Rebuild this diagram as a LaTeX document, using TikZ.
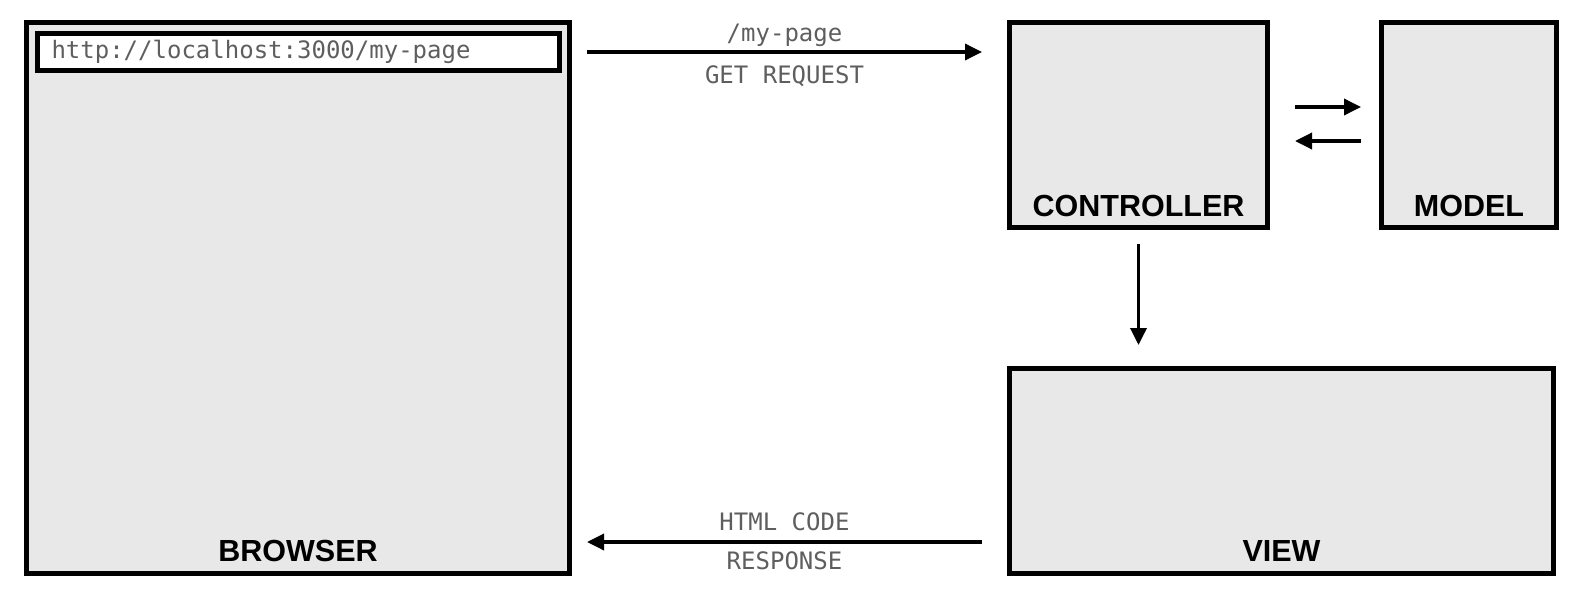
\documentclass[tikz,border=0pt]{standalone}
\usepackage{fontspec}
\setmainfont{Liberation Sans}
\newfontfamily\monofont{DejaVu Sans Mono}
\usetikzlibrary{arrows.meta}
\usepackage{xcolor}
\definecolor{boxgray}{HTML}{E8E8E8}
\definecolor{labelgray}{HTML}{5E5E5E}

\begin{document}
\begin{tikzpicture}[
        x=1pt, y=-1pt,
        box/.style={draw, line width=5pt, fill=boxgray},
        ttl/.style={font=\fontsize{30.5}{36}\selectfont\bfseries},
        mono/.style={font=\fontsize{24}{28}\selectfont\monofont, text=labelgray},
        lbl/.style={mono, xshift=-5pt},
        flow/.style={->, line width=3.5pt},
        >={Triangle[length=17pt, width=16pt]}
      ]
        \useasboundingbox (0,0) rectangle (1584,605);

        \node[box, minimum width=543pt, minimum height=551pt] (browser) at (298,298) {};
        \node[box, fill=white, mono, text width=494pt, inner xsep=14pt, minimum height=37pt, align=left] (url) at (298.5,52) {http://localhost:3000/my-page};
        \node[box, minimum width=258pt, minimum height=205pt] (controller) at (1138.5,125) {};
        \node[box, minimum width=175pt, minimum height=205pt] (model) at (1469,125) {};
        \node[box, minimum width=544pt, minimum height=205pt] (view) at (1281.5,471) {};

        \node[ttl] at ([yshift=25pt]browser.south) {BROWSER};
        \node[ttl] at ([yshift=24pt]controller.south) {CONTROLLER};
        \node[ttl] at ([yshift=24pt]model.south) {MODEL};
        \node[ttl] at ([yshift=25pt]view.south) {VIEW};

        \draw[flow, shorten <=15pt, shorten >=25pt] (browser.east |- url) -- node[lbl, yshift=17pt]{/my-page} node[lbl, yshift=-24pt]{GET REQUEST} (controller.west |- url);
        \draw[flow, shorten <=25pt, shorten >=18pt] ([yshift=18pt]controller.east) -- ([yshift=18pt]controller.east -| model.west);
        \draw[flow, shorten <=18pt, shorten >=25pt] ([yshift=-16pt]controller.east -| model.west) -- ([yshift=-16pt]controller.east);
        \draw[flow, shorten <=14pt, shorten >=21pt] (controller.south) -- (controller.south |- view.north);
        \draw[flow, shorten <=25pt, shorten >=15pt] ([yshift=34pt]view.south west) -- node[lbl, yshift=20pt]{HTML CODE} node[lbl, yshift=-19pt]{RESPONSE} ([yshift=34pt]browser.south east);
    \end{tikzpicture}
\end{document}
